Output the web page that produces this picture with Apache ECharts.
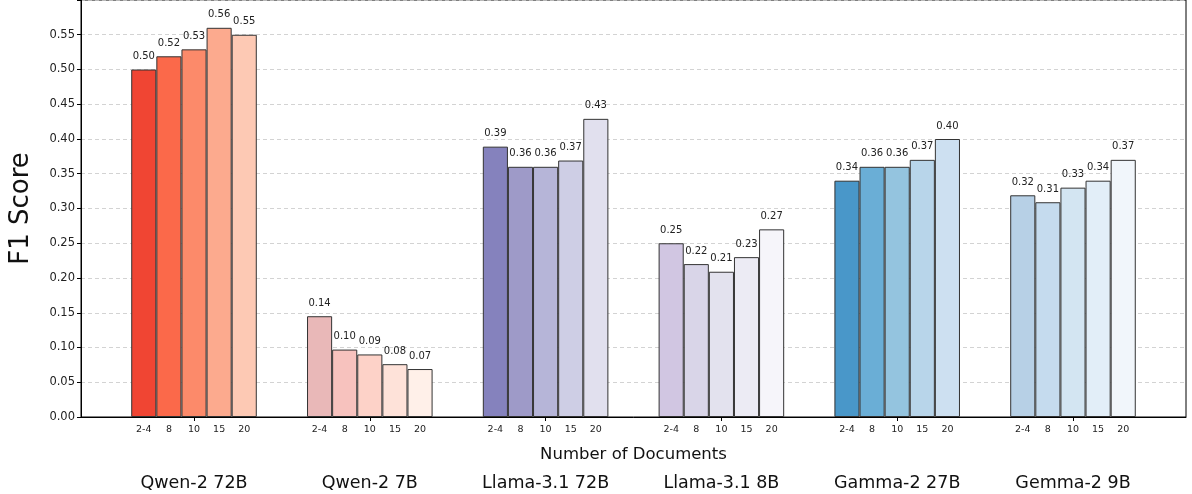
<!DOCTYPE html>
<html>
<head>
<meta charset="utf-8">
<script src="https://cdn.jsdelivr.net/npm/echarts@6/dist/echarts.min.js"></script>
<style>
html,body{margin:0;padding:0;background:#fff;}
#chart{width:1192px;height:494px;}
</style>
</head>
<body>
<div id="chart"></div>
<script>
var docCounts = ['2-4', '8', '10', '15', '20'];
var models = ['Qwen-2 72B', 'Qwen-2 7B', 'Llama-3.1 72B', 'Llama-3.1 8B', 'Gamma-2 27B', 'Gemma-2 9B'];
var qwen72 = [0.50, 0.519, 0.529, 0.56, 0.55];
var qwen7 = [0.145, 0.097, 0.09, 0.076, 0.069];
var llama72 = [0.389, 0.36, 0.36, 0.369, 0.429];
var llama8 = [0.25, 0.22, 0.209, 0.23, 0.27];
var gamma27 = [0.34, 0.36, 0.36, 0.37, 0.40];
var gemma9 = [0.319, 0.309, 0.33, 0.34, 0.37];
var yTicks = [0, 0.05, 0.10, 0.15, 0.20, 0.25, 0.30, 0.35, 0.40, 0.45, 0.50, 0.55];

var palette = [
  ['#f04533', '#fb694a', '#fc8a6a', '#fcaa8e', '#fdc9b4'],
  ['#e9b8b8', '#f7c2be', '#fdd2c8', '#fee2d9', '#fff0e9'],
  ['#8582bd', '#9e9ac8', '#b6b5d8', '#cecee5', '#e1e0ee'],
  ['#d1c6e2', '#d9d5e8', '#e3e2ee', '#ecebf4', '#f6f5fa'],
  ['#4997c9', '#6aaed6', '#94c4df', '#b8d5ea', '#cde0f1'],
  ['#b7d0e6', '#c5dbee', '#d3e5f2', '#e2eef8', '#f1f6fb']
];

var allValues = [qwen72, qwen7, llama72, llama8, gamma27, gemma9];
var nBars = docCounts.length;
var slot = 1 / 7;
var pad = (nBars / 2) * slot + 2 * slot;

var barData = [];
var barPositions = [];
allValues.forEach(function (vals, i) {
  vals.forEach(function (v, j) {
    var x = i + (j - (nBars - 1) / 2) * slot;
    barPositions.push(x);
    barData.push({ value: [x, v], itemStyle: { color: palette[i][j] } });
  });
});
var groupCenters = models.map(function (m, i) { return i; });

var FONT = 'DejaVu Sans';
var chart = echarts.init(document.getElementById('chart'));
chart.setOption({
  animation: false,
  backgroundColor: '#fff',
  textStyle: { fontFamily: FONT },
  grid: { left: 80, right: 6, top: 0, bottom: 77, show: true, borderColor: '#000', borderWidth: 1 },
  xAxis: [
    {
      type: 'value',
      min: -pad, max: models.length - 1 + pad,
      axisLine: { show: true, onZero: false, lineStyle: { color: '#000', width: 1 } },
      axisTick: { show: true, customValues: groupCenters, length: 4, lineStyle: { color: '#000', width: 1 } },
      axisLabel: {
        customValues: barPositions,
        fontSize: 9.5, color: '#222', fontFamily: FONT, margin: 8,
        formatter: function (v) {
          var j = Math.round((v - Math.round(v)) / slot + (nBars - 1) / 2);
          return docCounts[j] || '';
        }
      },
      splitLine: { show: false },
      name: 'Number of Documents', nameLocation: 'middle', nameGap: 29,
      nameTextStyle: { fontSize: 16.5, color: '#111', fontFamily: FONT }
    },
    {
      type: 'value', position: 'bottom', offset: 51,
      min: -pad, max: models.length - 1 + pad,
      axisLine: { show: false, onZero: false }, axisTick: { show: false }, splitLine: { show: false },
      axisLabel: {
        customValues: groupCenters, fontSize: 17.5, color: '#111', fontFamily: FONT, margin: 6,
        formatter: function (v) { return models[Math.round(v)] || ''; }
      }
    }
  ],
  yAxis: {
    type: 'value', min: 0, max: 0.6, interval: 0.05,
    axisLine: { show: true, onZero: false, lineStyle: { color: '#000', width: 1 } },
    axisTick: { show: true, length: 4, lineStyle: { color: '#000' } },
    axisLabel: {
      fontSize: 11.5, color: '#222', fontFamily: FONT, margin: 6,
      formatter: function (v) {
        for (var k = 0; k < yTicks.length; k++) { if (Math.abs(yTicks[k] - v) < 1e-6) return yTicks[k].toFixed(2); }
        return '';
      }
    },
    splitLine: { show: true, lineStyle: { color: '#c8c8c8', type: [4, 3], width: 0.8 } },
    name: 'F1 Score', nameLocation: 'middle', nameGap: 47,
    nameTextStyle: { fontSize: 26, color: '#111', fontFamily: FONT }
  },
  series: [{
    type: 'bar',
    xAxisIndex: 0,
    barWidth: '100%',
    data: barData,
    itemStyle: { borderColor: '#333', borderWidth: 1 },
    label: {
      show: true, position: 'top', distance: 8,
      fontSize: 10, color: '#222', fontFamily: FONT,
      formatter: function (p) { return p.value[1].toFixed(2); }
    }
  }]
});
</script>
</body>
</html>
